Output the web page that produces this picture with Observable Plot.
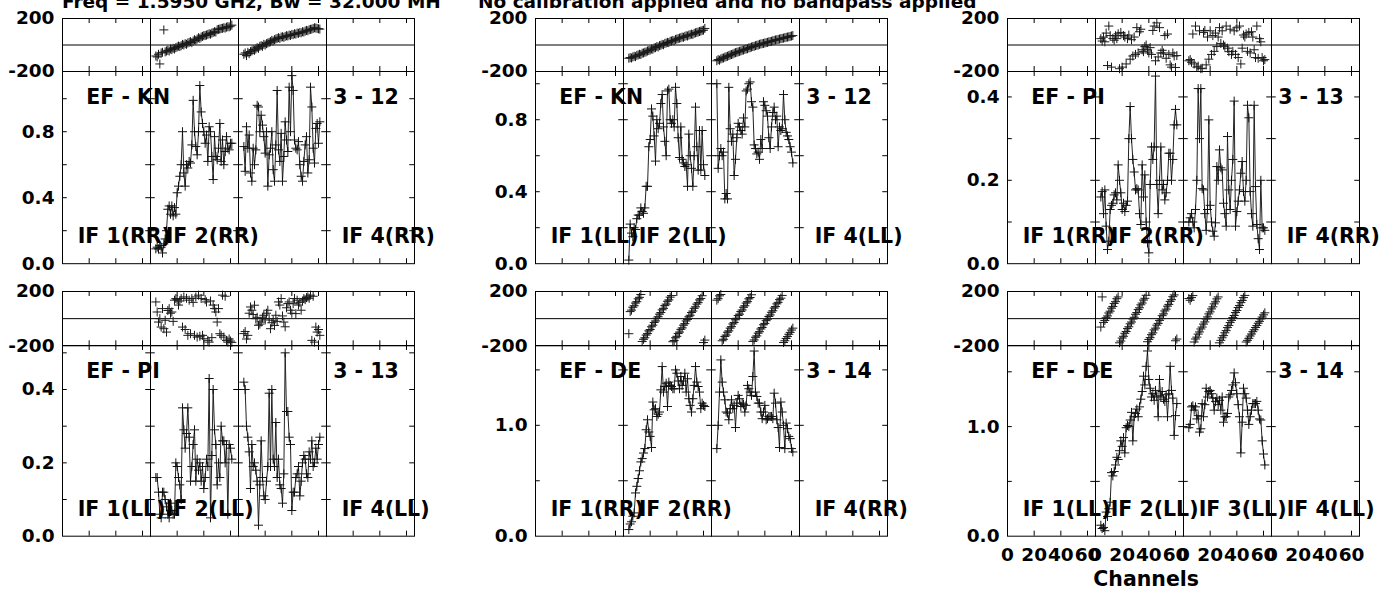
<!DOCTYPE html>
<html>
<head>
<meta charset="utf-8">
<script src="https://cdn.jsdelivr.net/npm/d3@7"></script>
<script src="https://cdn.jsdelivr.net/npm/@observablehq/plot@0.6"></script>
<style>
  body { margin: 0; background: #fff; }
  #chart { position: relative; width: 1393px; height: 592px; overflow: hidden; background: #fff; }
  .cell { position: absolute; }
  .cell svg { overflow: visible; background: transparent !important; max-width: none !important; }
  #overlay { position: absolute; left: 0; top: 0; }
</style>
</head>
<body>
<div id="chart"></div>
<script>
// ---------------- DATA ----------------
const titleLeft = "Freq = 1.5950 GHz, Bw = 32.000 MH";
const titleRight = "No calibration applied and no bandpass applied";
const xAxisTitle = "Channels";

const ifNumbers = [1, 2, 3, 4];
const firstChannel = 4;               // first plotted channel of each IF series
const channelTicks = [0, 20, 40, 60];
const phaseLabels = [200, -200];

// EF - KN, RR (3 - 12)
const amp_EFKN_RR_IF2 = [0.09,0.10,0.09,0.11,0.10,0.065,0.12,0.15,0.20,0.33,0.35,0.30,0.35,0.29,0.34,0.30,0.43,0.47,0.53,0.60,0.80,0.55,0.47,0.60,0.58,0.62,0.61,0.72,0.99,0.80,0.71,0.66,0.80,1.08,0.92,0.85,0.80,0.73,0.78,0.62,0.83,0.80,0.65,0.51,0.77,0.65,0.63,0.70,0.85,0.62,0.75,0.60,0.68,0.77,0.70,0.69,0.73,0.73];
const amp_EFKN_RR_IF3 = [0.71,0.56,0.83,0.70,0.78,0.55,0.50,0.70,0.60,0.69,0.96,0.95,0.80,0.90,0.84,0.77,0.67,0.80,0.47,0.66,0.70,0.80,0.57,0.50,0.72,1.05,0.69,0.62,0.79,0.50,0.65,0.86,0.75,0.68,1.07,0.80,1.14,1.05,0.75,0.70,0.69,0.74,0.60,0.53,0.50,0.62,0.72,0.77,0.55,0.63,1.07,0.95,0.70,0.61,0.82,0.85,0.73,0.86];
const ph_EFKN_RR_IF2 = [-83,-90,-70,-143,-60,-55,114,-52,-45,-40,-45,-30,-35,-25,-30,-20,-15,-8,-12,-5,5,0,10,5,15,20,25,18,30,40,35,45,55,50,60,65,70,72,75,80,85,82,90,95,100,98,115,118,120,125,126,130,128,135,138,137,143,150];
const ph_EFKN_RR_IF3 = [-70,-60,-80,-55,-65,-50,-45,-35,-40,-30,-20,-25,-10,-5,-10,5,0,10,15,20,25,35,30,40,45,50,55,50,60,62,58,65,70,68,75,72,80,78,85,82,90,88,95,92,100,98,105,110,108,115,118,120,125,130,128,125,122,120];

// EF - KN, LL (3 - 12)
const amp_EFKN_LL_IF2 = [0.02,0.22,0.17,0.15,0.20,0.19,0.25,0.27,0.27,0.31,0.29,0.28,0.31,0.43,0.43,0.65,0.69,0.86,0.82,0.71,0.57,0.80,0.75,0.78,0.89,0.94,0.76,0.68,0.60,0.96,0.97,0.80,0.78,0.80,0.76,0.98,0.89,0.70,0.59,0.76,0.58,0.56,0.54,0.55,0.43,0.72,0.60,0.53,0.43,0.60,0.87,0.65,0.52,0.74,0.52,0.74,0.55,0.49];
const amp_EFKN_LL_IF3 = [1.00,0.53,0.60,0.64,0.60,0.62,0.36,0.39,0.36,0.98,0.75,0.68,0.72,0.49,0.58,0.70,0.78,0.76,0.74,0.72,0.81,0.76,0.96,0.97,1.00,1.01,0.90,0.87,0.66,0.64,0.61,0.62,0.58,0.69,0.64,0.90,0.88,0.85,0.82,0.70,0.64,0.76,0.84,0.87,0.80,0.82,0.65,0.76,0.74,0.75,0.94,0.80,0.73,0.71,0.69,0.65,0.62,0.56];
const ph_EFKN_LL_IF2 = [-100,-95,-98,-90,-85,-88,-78,-75,-70,-72,-62,-60,-55,-52,-45,-42,-38,-30,-32,-22,-20,-12,-15,-5,-2,5,2,12,15,20,18,28,30,35,32,42,45,48,52,55,60,58,65,70,68,75,78,82,80,88,92,95,98,102,105,110,112,125];
const ph_EFKN_LL_IF3 = [-119,-110,-115,-105,-100,-98,-92,-88,-85,-80,-75,-72,-68,-62,-58,-55,-52,-48,-45,-40,-38,-33,-30,-28,-22,-20,-15,-12,-10,-5,-2,0,5,8,10,12,15,18,20,24,26,28,32,35,38,40,42,45,48,50,52,55,58,60,62,65,68,71];

// EF - PI, RR (3 - 13)
const amp_EFPI_RR_IF2 = [0.16,0.173,0.12,0.177,0.09,0.034,0.054,0.13,0.14,0.145,0.165,0.17,0.153,0.237,0.20,0.17,0.13,0.145,0.125,0.14,0.15,0.30,0.377,0.30,0.25,0.22,0.177,0.18,0.177,0.12,0.094,0.237,0.16,0.213,0.10,0.05,0.026,0.19,0.28,0.25,0.28,0.45,0.19,0.12,0.20,0.28,0.177,0.19,0.153,0.17,0.20,0.265,0.265,0.20,0.25,0.333,0.37,0.333];
const amp_EFPI_RR_IF3 = [0.10,0.11,0.12,0.10,0.086,0.13,0.20,0.42,0.30,0.42,0.18,0.177,0.12,0.08,0.13,0.345,0.14,0.10,0.078,0.066,0.098,0.233,0.20,0.273,0.23,0.225,0.145,0.12,0.09,0.305,0.177,0.13,0.20,0.25,0.39,0.09,0.125,0.15,0.177,0.217,0.245,0.173,0.15,0.20,0.38,0.35,0.173,0.12,0.09,0.38,0.185,0.094,0.06,0.034,0.20,0.086,0.086,0.08];
const ph_EFPI_RR_IF2 = [48,30,60,24,90,-155,143,71,-167,50,36,70,48,85,-179,95,-167,71,60,-143,48,75,-107,40,-83,60,-71,131,-60,100,119,-36,-50,-12,0,-36,-60,-20,-71,110,143,-119,167,-90,131,-60,-40,-60,71,-100,83,-71,-150,-167,-60,-83,-170,-80];
const ph_EFPI_RR_IF3 = [-119,-110,-130,83,-143,143,-167,-160,107,-179,-175,95,110,-150,60,-107,107,-71,71,-48,90,-12,60,131,12,107,0,-10,143,-24,-50,119,-71,-48,107,-71,130,-95,143,-143,-24,75,60,83,-48,95,-60,100,60,-36,-95,143,-100,48,24,-95,-119,-110];

// EF - PI, LL (3 - 13)
const amp_EFPI_LL_IF2 = [0.16,0.16,0.12,0.06,0.05,0.12,0.12,0.10,0.08,0.06,0.05,0.09,0.07,0.06,0.06,0.20,0.19,0.16,0.14,0.10,0.35,0.29,0.24,0.28,0.35,0.27,0.15,0.19,0.25,0.29,0.15,0.21,0.18,0.20,0.15,0.19,0.13,0.16,0.21,0.19,0.43,0.05,0.22,0.40,0.29,0.25,0.14,0.20,0.16,0.30,0.26,0.26,0.20,0.25,0.06,0.25,0.24,0.21];
const amp_EFPI_LL_IF3 = [0.42,0.40,0.30,0.27,0.23,0.13,0.25,0.19,0.20,0.18,0.15,0.03,0.14,0.26,0.16,0.11,0.10,0.15,0.19,0.39,0.19,0.40,0.21,0.19,0.31,0.16,0.21,0.14,0.13,0.09,0.17,0.50,0.34,0.34,0.27,0.25,0.07,0.12,0.12,0.16,0.17,0.19,0.11,0.15,0.20,0.22,0.21,0.17,0.16,0.23,0.21,0.26,0.19,0.20,0.24,0.21,0.25,0.27];
const ph_EFPI_LL_IF2 = [123,49,-25,0,-62,74,-74,-12,-99,60,74,40,49,-20,136,148,140,100,130,148,-62,160,-80,150,-123,136,-111,148,120,-123,160,-136,173,-130,148,-123,-148,140,123,-160,-173,130,-140,100,74,49,-25,74,-111,-123,173,-136,165,-160,-173,-150,-165,-175];
const ph_EFPI_LL_IF3 = [-110,-95,-150,-123,40,86,62,30,99,0,10,-49,-40,-25,5,25,-10,40,62,0,-74,-30,-12,-50,25,-20,123,100,148,20,-25,-60,80,111,123,62,40,110,148,37,136,100,120,62,130,148,140,155,160,150,173,-160,165,-173,-62,-99,-80,-123];

// EF - DE, RR (3 - 14)
const amp_EFDE_RR_IF2 = [0.06,0.11,0.13,0.18,0.21,0.39,0.45,0.52,0.59,0.67,0.70,0.75,0.79,0.96,1.05,0.94,0.90,0.80,1.21,1.14,1.15,1.08,1.10,1.12,1.32,1.53,1.30,1.35,1.38,1.17,1.39,1.36,1.35,1.33,1.33,1.50,1.47,1.40,1.33,1.44,1.36,1.40,1.47,1.30,1.42,1.24,1.18,1.12,1.24,1.36,1.53,1.39,1.35,1.30,1.15,1.20,1.18,1.17];
const amp_EFDE_RR_IF3 = [0.79,1.00,1.30,1.59,1.39,1.30,1.23,1.12,1.11,1.05,1.15,1.23,1.15,1.18,0.98,1.20,1.27,1.24,1.17,1.20,1.19,1.12,1.18,1.36,1.33,1.30,1.27,1.44,1.67,1.30,1.26,1.20,1.20,1.12,1.06,1.12,1.18,1.05,1.06,1.08,1.08,1.08,1.06,1.29,1.20,1.05,0.98,0.80,1.21,1.12,1.00,0.79,1.02,0.97,0.90,0.88,0.79,0.76];
const ph_EFDE_RR_IF2 = [-111,52,63,84,95,115,125,146,157,178,-168,-152,-141,-121,-110,-90,-80,-60,-48,-28,-17,3,14,33,45,65,76,96,107,128,138,158,170,-170,-161,-141,-130,-110,-99,-79,-68,-48,-37,-17,-6,14,25,45,56,76,87,107,118,138,149,169,-176,-158];
const ph_EFDE_RR_IF3 = [136,147,168,178,-163,-152,-131,-121,-100,-90,-70,-59,-39,-28,-8,3,23,33,53,64,84,95,115,125,146,156,176,-168,-157,-137,-127,-107,-96,-76,-65,-45,-35,-15,-4,16,27,47,58,78,89,109,120,140,151,171,-176,-163,-146,-132,-115,-101,-84,-70];

// EF - DE, LL (3 - 14)
const amp_EFDE_LL_IF2 = [0.10,0.07,0.08,0.05,0.22,0.18,0.25,0.31,0.58,0.55,0.59,0.65,0.72,0.70,0.78,0.87,0.82,0.90,0.76,0.99,1.01,1.00,1.06,1.13,0.87,1.09,1.12,1.16,1.09,1.18,1.25,1.32,1.46,1.38,1.55,1.69,1.43,1.35,1.27,1.30,1.24,1.33,1.28,1.09,1.43,1.27,1.32,1.25,1.23,1.29,1.09,1.30,1.55,1.33,1.26,0.92,1.10,1.21];
const amp_EFDE_LL_IF3 = [0.99,1.02,1.18,1.19,1.15,1.18,1.07,1.10,0.95,0.98,1.21,1.09,1.20,1.35,1.27,1.32,1.33,1.30,1.26,1.15,1.23,1.26,1.20,1.24,1.15,1.27,1.04,1.09,1.09,1.12,1.27,1.29,1.33,1.38,1.49,1.40,1.30,1.20,1.09,0.76,1.04,1.35,1.30,1.26,1.15,1.02,1.09,1.15,1.21,1.21,1.21,1.23,1.15,1.07,1.06,0.87,0.75,0.65];
const ph_EFDE_LL_IF2 = [-62,160,-28,-14,7,20,42,55,77,90,112,125,147,160,-178,-165,-143,-130,-108,-95,-73,-60,-38,-25,-3,10,32,45,67,80,102,115,137,150,172,-170,-153,-140,-118,-105,-83,-70,-48,-35,-13,0,22,35,57,70,92,105,127,140,162,175,-163,-150];
const ph_EFDE_LL_IF3 = [148,135,155,170,-172,-150,-136,-114,-98,-76,-62,-40,-24,-3,13,35,50,72,87,109,124,146,160,-178,-160,-141,-125,-104,-88,-66,-50,-29,-13,8,23,45,60,82,97,118,134,155,171,-172,-160,-145,-128,-113,-96,-82,-65,-51,-34,-20,-2,12,28,43];

const panels = [
  {baseline: "EF - KN", pair: "3 - 12", pol: "RR", ifLabels: [1,2,4],   ampMax: 1.165, ampTicks: [0.2,0.4,0.6,0.8,1.0], ampLabels: [0,0.4,0.8], amp2: amp_EFKN_RR_IF2, amp3: amp_EFKN_RR_IF3, ph2: ph_EFKN_RR_IF2, ph3: ph_EFKN_RR_IF3},
  {baseline: "EF - KN", pair: "3 - 12", pol: "LL", ifLabels: [1,2,4],   ampMax: 1.068, ampTicks: [0.2,0.4,0.6,0.8,1.0], ampLabels: [0,0.4,0.8], amp2: amp_EFKN_LL_IF2, amp3: amp_EFKN_LL_IF3, ph2: ph_EFKN_LL_IF2, ph3: ph_EFKN_LL_IF3},
  {baseline: "EF - PI", pair: "3 - 13", pol: "RR", ifLabels: [1,2,4],   ampMax: 0.461, ampTicks: [0.1,0.2,0.3,0.4],     ampLabels: [0,0.2,0.4], amp2: amp_EFPI_RR_IF2, amp3: amp_EFPI_RR_IF3, ph2: ph_EFPI_RR_IF2, ph3: ph_EFPI_RR_IF3},
  {baseline: "EF - PI", pair: "3 - 13", pol: "LL", ifLabels: [1,2,4],   ampMax: 0.52,  ampTicks: [0.1,0.2,0.3,0.4,0.5], ampLabels: [0,0.2,0.4], amp2: amp_EFPI_LL_IF2, amp3: amp_EFPI_LL_IF3, ph2: ph_EFPI_LL_IF2, ph3: ph_EFPI_LL_IF3},
  {baseline: "EF - DE", pair: "3 - 14", pol: "RR", ifLabels: [1,2,4],   ampMax: 1.72,  ampTicks: [0.5,1.0,1.5],         ampLabels: [0,1],       amp2: amp_EFDE_RR_IF2, amp3: amp_EFDE_RR_IF3, ph2: ph_EFDE_RR_IF2, ph3: ph_EFDE_RR_IF3},
  {baseline: "EF - DE", pair: "3 - 14", pol: "LL", ifLabels: [1,2,3,4], ampMax: 1.74,  ampTicks: [0.5,1.0,1.5],         ampLabels: [0,1],       amp2: amp_EFDE_LL_IF2, amp3: amp_EFDE_LL_IF3, ph2: ph_EFDE_LL_IF2, ph3: ph_EFDE_LL_IF3}
];

// ---------------- LAYOUT ----------------
const colLeft = [61, 534, 1006];
const rowBox = [
  {phTop: 18.3, ampTop: 71.3, ampBottom: 263.5},
  {phTop: 291, ampTop: 345.3, ampBottom: 536}
];
const frameWidth = 353;
const facetWidth = frameWidth / 4;
const channelDomain = [0, 66];
const M = {left: 80, right: 60, top: 20, bottom: 70};
const tickLen = 5;
const labelFont = 20.5;

const plusSymbol = {
  draw(context, size) {
    const r = Math.sqrt(size / Math.PI);
    context.moveTo(-r, 0); context.lineTo(r, 0);
    context.moveTo(0, -r); context.lineTo(0, r);
  }
};

function seriesRows(ifNum, values) {
  return values.map((v, i) => ({if: ifNum, ch: firstChannel + i, v}));
}
function tickRows(values) {
  return ifNumbers.flatMap(n => values.map(v => ({if: n, v})));
}
function baseStyle() {
  return {fontFamily: '"DejaVu Sans", sans-serif', fontSize: "18.5px", fontWeight: "bold",
          color: "black", background: "transparent", overflow: "visible", maxWidth: "none"};
}
function common(H) {
  return {
    width: M.left + frameWidth + M.right, height: M.top + H + M.bottom,
    marginLeft: M.left, marginRight: M.right, marginTop: M.top, marginBottom: M.bottom,
    style: baseStyle(),
    fx: {domain: ifNumbers, padding: 0, axis: null, label: null},
    x: {domain: channelDomain, axis: null, label: null}
  };
}

function phasePlot(p, H) {
  const rows = [...seriesRows(2, p.ph2), ...seriesRows(3, p.ph3)];
  const xt = tickRows(channelTicks.slice(1));
  return Plot.plot({
    ...common(H),
    y: {domain: [-200, 200], axis: null, label: null},
    marks: [
      Plot.ruleY([0], {stroke: "black", strokeWidth: 1}),
      Plot.tickX(xt, {fx: "if", x: "v", insetTop: H - tickLen, stroke: "black"}),
      Plot.tickX(xt, {fx: "if", x: "v", insetBottom: H - tickLen, stroke: "black"}),
      Plot.dot(rows, {fx: "if", x: "ch", y: "v", symbol: plusSymbol, r: 4.5, fill: "none", stroke: "#1a1a1a", strokeWidth: 1}),
      Plot.frame({stroke: "black", strokeWidth: 1}),
      Plot.axisY(phaseLabels, {label: null, tickSize: 0, tickPadding: 8, facetAnchor: "left", tickFormat: d => String(d)})
    ]
  });
}

function ampPlot(p, H, withXAxis) {
  const rows = [...seriesRows(2, p.amp2), ...seriesRows(3, p.amp3)];
  const xt = tickRows(channelTicks.slice(1));
  const yt = tickRows(p.ampTicks);
  const marks = [
    Plot.tickX(xt, {fx: "if", x: "v", insetTop: H - tickLen, stroke: "black"}),
    Plot.tickX(xt, {fx: "if", x: "v", insetBottom: H - tickLen, stroke: "black"}),
    Plot.tickY(yt, {fx: "if", y: "v", insetRight: facetWidth - tickLen, stroke: "black"}),
    Plot.tickY(yt, {fx: "if", y: "v", insetLeft: facetWidth - tickLen, stroke: "black"}),
    Plot.line(rows, {fx: "if", x: "ch", y: "v", z: "if", stroke: "#222", strokeWidth: 1}),
    Plot.dot(rows, {fx: "if", x: "ch", y: "v", symbol: plusSymbol, r: 4.5, fill: "none", stroke: "#111", strokeWidth: 1}),
    Plot.frame({stroke: "black", strokeWidth: 1}),
    Plot.axisY(p.ampLabels, {label: null, tickSize: 0, tickPadding: 8, facetAnchor: "left", tickFormat: d3.format(".1f")}),
    Plot.text([{if: 1, ch: 17.9, text: p.baseline}], {fx: "if", x: "ch", text: "text", frameAnchor: "top", dy: 33, lineAnchor: "bottom", textAnchor: "start", fontSize: labelFont}),
    Plot.text([{if: 4, ch: 5, text: p.pair}], {fx: "if", x: "ch", text: "text", frameAnchor: "top", dy: 33, lineAnchor: "bottom", textAnchor: "start", fontSize: labelFont}),
    Plot.text(p.ifLabels.map(n => ({if: n, ch: 11.4, text: `IF ${n}(${p.pol})`})), {fx: "if", x: "ch", text: "text", frameAnchor: "bottom", dy: -20.5, lineAnchor: "bottom", textAnchor: "start", fontSize: labelFont})
  ];
  if (withXAxis) {
    marks.push(Plot.axisX(channelTicks, {label: null, tickSize: 0, tickPadding: 12, facetAnchor: "bottom", tickFormat: d => String(d)}));
    marks.push(Plot.text([{if: 2, ch: 38, text: xAxisTitle}], {fx: "if", x: "ch", text: "text", frameAnchor: "bottom", dy: 49.5, lineAnchor: "bottom", textAnchor: "middle", fontSize: labelFont}));
  }
  return Plot.plot({
    ...common(H),
    y: {domain: [0, p.ampMax], axis: null, label: null},
    marks
  });
}

const chart = document.getElementById("chart");
function place(node, left, top) {
  const div = document.createElement("div");
  div.className = "cell";
  div.style.left = left + "px";
  div.style.top = top + "px";
  div.appendChild(node);
  chart.appendChild(div);
}

panels.forEach((p, i) => {
  const col = i % 3, row = Math.floor(i / 3);
  const box = rowBox[row];
  const left = colLeft[col] - M.left;
  const hPh = box.ampTop - box.phTop;
  const hAmp = box.ampBottom - box.ampTop;
  place(phasePlot(p, hPh), left, box.phTop - M.top);
  place(ampPlot(p, hAmp, row === 1 && col === 2), left, box.ampTop - M.top);
});

// title (partly cut off at the top edge, as in the reference)
const overlay = d3.select(chart).append("svg")
  .attr("id", "overlay").attr("width", 1393).attr("height", 592)
  .style("font-family", '"DejaVu Sans", sans-serif').style("font-weight", "bold").style("font-size", "18.5px");
overlay.append("text").attr("x", 62).attr("y", 8).text(titleLeft);
overlay.append("text").attr("x", 478).attr("y", 8).text(titleRight);
</script>
</body>
</html>
